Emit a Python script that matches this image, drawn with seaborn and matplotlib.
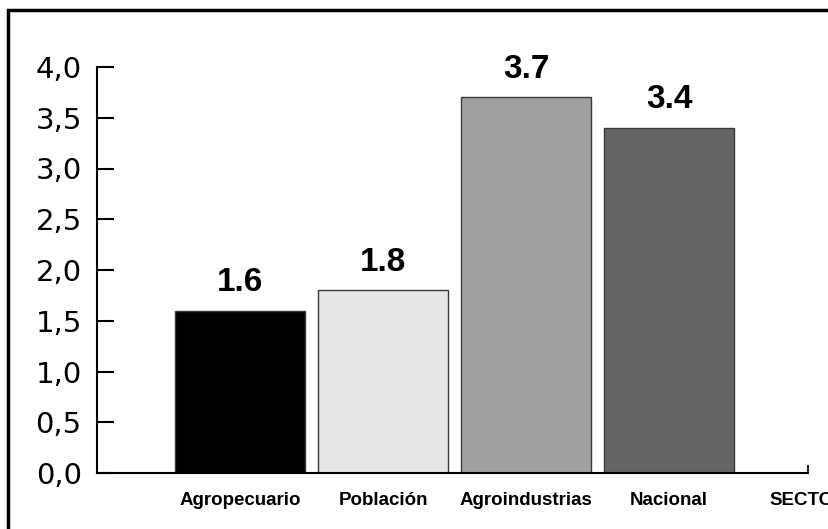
import matplotlib
matplotlib.use("Agg")
import matplotlib.pyplot as plt
import seaborn as sns
import pandas as pd
from matplotlib.patches import Rectangle
from matplotlib.ticker import FuncFormatter

# Data
sectores = ["Agropecuario", "Población", "Agroindustrias", "Nacional"]
valores = [1.6, 1.8, 3.7, 3.4]
colores = ["#000000", "#e6e6e6", "#a0a0a1", "#656567"]
eje_x_titulo = "SECTOR"

df = pd.DataFrame({"sector": sectores, "valor": valores})

sns.set_style("white")
plt.rcParams["font.family"] = ["DejaVu Sans"]
narrow = ["Liberation Sans", "DejaVu Sans"]

fig = plt.figure(figsize=(8.29, 5.29), dpi=100)
ax = fig.add_axes([97 / 829, 1 - 473 / 529, (808 - 97) / 829, (473 - 67) / 529])

sns.barplot(data=df, x="sector", y="valor", hue="sector", palette=colores,
            width=0.91, edgecolor="#3a3a3a", linewidth=1, legend=False, ax=ax)

for c in ax.containers:
    ax.bar_label(c, fmt="%.1f", padding=9, fontsize=24, fontweight="bold",
                 family=narrow, color="black")

ax.set_xlim(-1, 3.97)
ax.set_ylim(0, 4)
ax.set_yticks([i * 0.5 for i in range(9)])
ax.yaxis.set_major_formatter(FuncFormatter(lambda v, p: f"{v:.1f}".replace(".", ",")))
ax.tick_params(axis="y", direction="in", length=12, width=1.5, labelsize=21,
               pad=11, left=True, colors="black")

ax.set_xticks([0, 1, 2, 3, 3.97])
ax.set_xticklabels(sectores + [eje_x_titulo], fontsize=13.5, fontweight="bold",
                   family=narrow, color="black")
ax.tick_params(axis="x", direction="in", length=6, width=1.5, pad=14,
               bottom=True)
for t in ax.xaxis.get_major_ticks()[:4]:
    t.tick1line.set_visible(False)

ax.set_xlabel("")
ax.set_ylabel("")
for s in ["top", "right"]:
    ax.spines[s].set_visible(False)
for s in ["left", "bottom"]:
    ax.spines[s].set_linewidth(1.5)
    ax.spines[s].set_color("black")

# outer frame
fig.patches.append(Rectangle((8 / 829, -0.1), 1.2, 1 - 10 / 529 + 0.1,
                             transform=fig.transFigure, fill=False,
                             edgecolor="black", linewidth=2.5))

fig.savefig("out.png", dpi=100)
